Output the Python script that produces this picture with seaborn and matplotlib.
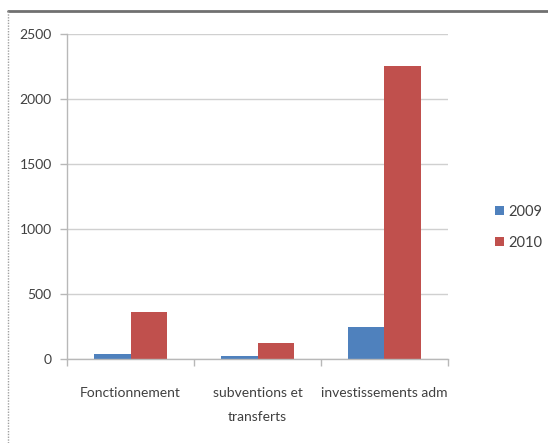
import matplotlib
matplotlib.use("Agg")
import matplotlib.pyplot as plt
from matplotlib.lines import Line2D
from matplotlib.patches import Patch
import seaborn as sns
import pandas as pd

categories = ["Fonctionnement", "subventions et\ntransferts", "investissements adm"]
years = ["2009", "2010"]
values_2009 = [38, 20, 244]
values_2010 = [365, 125, 2250]
yticks = [0, 500, 1000, 1500, 2000, 2500]

colors = {"2009": "#4F81BD", "2010": "#C0504D"}

df = pd.DataFrame({
    "categorie": categories * 2,
    "annee": [years[0]] * 3 + [years[1]] * 3,
    "valeur": values_2009 + values_2010,
})

sns.set_theme(style="white")
plt.rcParams["font.family"] = ["Lato", "DejaVu Sans"]

fig = plt.figure(figsize=(5.48, 4.43), dpi=100)
ax = fig.add_axes([0.1223, 0.1896, 0.6952, 0.7337])

sns.barplot(data=df, x="categorie", y="valeur", hue="annee", order=categories,
            hue_order=years, palette=colors, width=0.57, saturation=1,
            errorbar=None, legend=False, ax=ax, linewidth=0)

ax.set_ylim(0, 2500)
ax.set_xlim(-0.5, 2.5)
ax.set_yticks(yticks)
ax.set_yticklabels([str(v) for v in yticks], fontsize=10, color="#404040")
ax.yaxis.grid(True, color="#d0d0d0", linewidth=1)
ax.set_axisbelow(True)
ax.set_xlabel("")
ax.set_ylabel("")

ax.set_xticks(range(3))
ax.set_xticklabels(categories, fontsize=10, color="#404040",
                   multialignment="center", linespacing=2.2)
ax.set_xticks([-0.5, 0.5, 1.5, 2.5], minor=True)
ax.tick_params(axis="x", which="major", length=0, pad=20)
ax.tick_params(axis="x", which="minor", length=5, width=1, color="#b8b8b8",
               direction="out", bottom=True)
ax.tick_params(axis="y", length=5, width=1, color="#b8b8b8", direction="out",
               left=True, pad=6)

for side in ["top", "right"]:
    ax.spines[side].set_visible(False)
for side in ["left", "bottom"]:
    ax.spines[side].set_color("#b8b8b8")
    ax.spines[side].set_linewidth(1)

handles = [Patch(facecolor=colors[y], edgecolor="none") for y in years]
fig.legend(handles, years, loc="center left", bbox_to_anchor=(0.88, 0.487),
           frameon=False, fontsize=10.5, handlelength=0.6, handleheight=0.6,
           handletextpad=0.3, labelspacing=1.2, labelcolor="#404040")

# outer chart frame
fig.add_artist(Line2D([8 / 548, 1.0], [1 - 11 / 443, 1 - 11 / 443],
                      transform=fig.transFigure, color="#707070", linewidth=2))
fig.add_artist(Line2D([8 / 548, 8 / 548], [0.0, 1 - 11 / 443],
                      transform=fig.transFigure, color="#a0a0a0", linewidth=1,
                      linestyle=(0, (1, 1))))

fig.savefig("out.png", dpi=100)
